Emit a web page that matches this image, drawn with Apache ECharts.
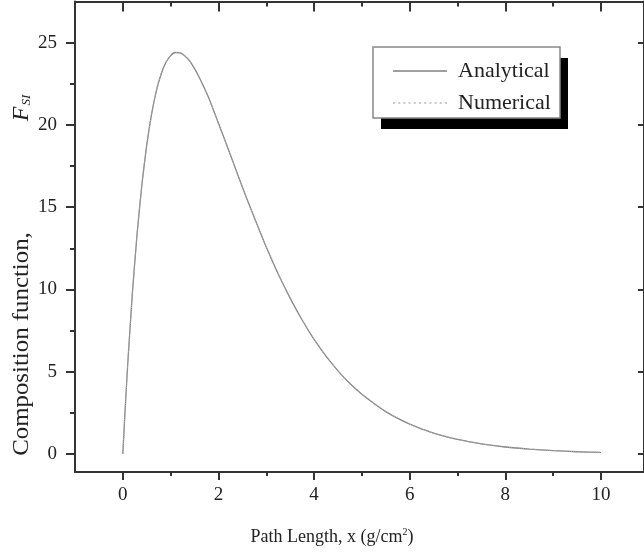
<!DOCTYPE html>
<html>
<head>
<meta charset="utf-8">
<script src="https://cdn.jsdelivr.net/npm/echarts@6/dist/echarts.min.js"></script>
<style>
  html, body { margin: 0; padding: 0; background: #fff; }
  #chart { width: 644px; height: 554px; }
</style>
</head>
<body>
<div id="chart"></div>
<script>
// path length x (g/cm2) and composition function F_SI
const pathLength = [0, 0.05, 0.1, 0.2, 0.3, 0.4, 0.5, 0.6, 0.7, 0.8, 0.9, 1.0, 1.1, 1.2, 1.3, 1.4, 1.5, 1.6, 1.8,
    2.0, 2.2, 2.4, 2.6, 2.8, 3.0, 3.25, 3.5, 3.75, 4.0, 4.25, 4.5, 4.75, 5.0, 5.5, 6.0, 6.5, 7.0, 7.5, 8.0, 8.5, 9.0, 9.5, 10.0];
const analytical = [0, 2.78, 5.33, 9.77, 13.42, 16.39, 18.77, 20.63, 22.05, 23.08, 23.79, 24.21, 24.4, 24.38, 24.19, 23.87, 23.42, 22.88, 21.62,
    20.1, 18.57, 17.0, 15.46, 14.0, 12.57, 10.94, 9.47, 8.14, 6.96, 5.94, 5.05, 4.28, 3.63, 2.57, 1.81, 1.26, 0.88, 0.61, 0.42, 0.29, 0.2, 0.13, 0.09];
const numerical = [0, 2.78, 5.33, 9.77, 13.42, 16.39, 18.77, 20.63, 22.05, 23.08, 23.79, 24.21, 24.4, 24.38, 24.19, 23.87, 23.42, 22.88, 21.62,
    20.1, 18.57, 17.0, 15.46, 14.0, 12.57, 10.94, 9.47, 8.14, 6.96, 5.94, 5.05, 4.28, 3.63, 2.57, 1.81, 1.26, 0.88, 0.61, 0.42, 0.29, 0.2, 0.13, 0.09];

const xMajor = [0, 2, 4, 6, 8, 10];
const xMinor = [1, 3, 5, 7, 9];
const yMajor = [0, 5, 10, 15, 20, 25];
const yMinor = [2.5, 7.5, 12.5, 17.5, 22.5];

const FONT = 'Liberation Serif';
const AXIS_COLOR = '#333';
const X_MIN = -1, X_MAX = 10.9;
const Y_MIN = -1.1, Y_MAX = 27.5;

function pairs(ys) {
    return pathLength.map((x, i) => [x, ys[i]]);
}

function axisDef(position, min, max, ticks, len, inside, showLine, labels, margin) {
    return {
        type: 'value', position: position, min: min, max: max,
        splitLine: {show: false},
        axisLine: {show: showLine, onZero: false, lineStyle: {color: AXIS_COLOR, width: 2}},
        axisTick: {show: true, inside: inside, length: len, customValues: ticks,
            lineStyle: {color: AXIS_COLOR, width: 2}},
        axisLabel: labels ? {show: true, customValues: labels, margin: margin,
            fontFamily: FONT, fontSize: 19, color: '#222'} : {show: false},
    };
}

const chart = echarts.init(document.getElementById('chart'), null, {renderer: 'canvas'});

const legendLine = 'path://M0,0h54v1.3h-54z';

chart.setOption({
    backgroundColor: '#fff',
    animation: false,
    grid: {left: 75, top: 1.5, width: 574, height: 470.5},
    xAxis: [
        axisDef('bottom', X_MIN, X_MAX, xMajor, 8, false, true, xMajor, 14),
        axisDef('bottom', X_MIN, X_MAX, xMinor, 4, false, false, null),
        axisDef('top', X_MIN, X_MAX, xMajor, 10, true, true, null),
        axisDef('top', X_MIN, X_MAX, xMinor, 5, true, false, null),
    ],
    yAxis: [
        axisDef('left', Y_MIN, Y_MAX, yMajor, 9, false, true, yMajor, 18),
        axisDef('left', Y_MIN, Y_MAX, yMinor, 5, false, false, null),
        axisDef('right', Y_MIN, Y_MAX, yMajor, 6, true, true, null),
    ],
    legend: {
        orient: 'vertical',
        left: 388, top: 55,
        itemWidth: 54, itemHeight: 18, itemGap: 10,
        data: [
            {name: 'Analytical', icon: legendLine},
            {name: 'Numerical', icon: 'path://M0,0h2v1h-2zM5,0h2v1h-2zM10,0h2v1h-2zM15,0h2v1h-2zM20,0h2v1h-2zM25,0h2v1h-2zM30,0h2v1h-2zM35,0h2v1h-2zM40,0h2v1h-2zM45,0h2v1h-2zM50,0h2v1h-2z'},
        ],
        textStyle: {fontFamily: FONT, fontSize: 22, color: '#222', padding: [0, 0, 0, 6]},
        z: 10,
    },
    graphic: [
        {type: 'rect', shape: {x: 381, y: 58, width: 187, height: 71}, style: {fill: '#000'}, z: 5},
        {type: 'rect', shape: {x: 373, y: 47, width: 187, height: 71},
            style: {fill: '#fff', stroke: '#888', lineWidth: 1.5}, z: 6},
        {
            type: 'text', x: 22, y: 344, rotation: Math.PI / 2, scaleX: 1.08, z: 6,
            style: {
                text: 'Composition function,',
                fontFamily: FONT, fontSize: 23, fill: '#222',
                align: 'center', verticalAlign: 'middle',
            },
        },
        {
            type: 'text', x: 22, y: 108, rotation: Math.PI / 2, z: 6,
            style: {
                text: '{f|F}{s|SI}',
                align: 'center', verticalAlign: 'middle',
                rich: {
                    f: {fontFamily: FONT, fontSize: 24, fontStyle: 'italic', fill: '#222'},
                    s: {fontFamily: FONT, fontSize: 13, fontStyle: 'italic', fill: '#222', padding: [9, 0, 0, 1]},
                },
            },
        },
        {
            type: 'text', x: 332, y: 537, z: 6,
            style: {
                text: 'Path Length, x (g/cm{u|2})',
                fontFamily: FONT, fontSize: 18, fill: '#222',
                align: 'center', verticalAlign: 'middle',
                rich: {
                    u: {fontFamily: FONT, fontSize: 10, fill: '#222', padding: [0, 0, 9, 0]},
                },
            },
        },
    ],
    series: [
        {
            name: 'Analytical', type: 'line', xAxisIndex: 0, yAxisIndex: 0,
            data: pairs(analytical), symbol: 'none', smooth: 0.2,
            lineStyle: {color: '#808080', width: 1.3},
            itemStyle: {color: '#808080'},
        },
        {
            name: 'Numerical', type: 'line', xAxisIndex: 0, yAxisIndex: 0,
            data: pairs(numerical), symbol: 'none', smooth: 0.2,
            lineStyle: {color: '#aaa', width: 1, type: 'dotted'},
            itemStyle: {color: '#999'},
        },
    ],
});
</script>
</body>
</html>
